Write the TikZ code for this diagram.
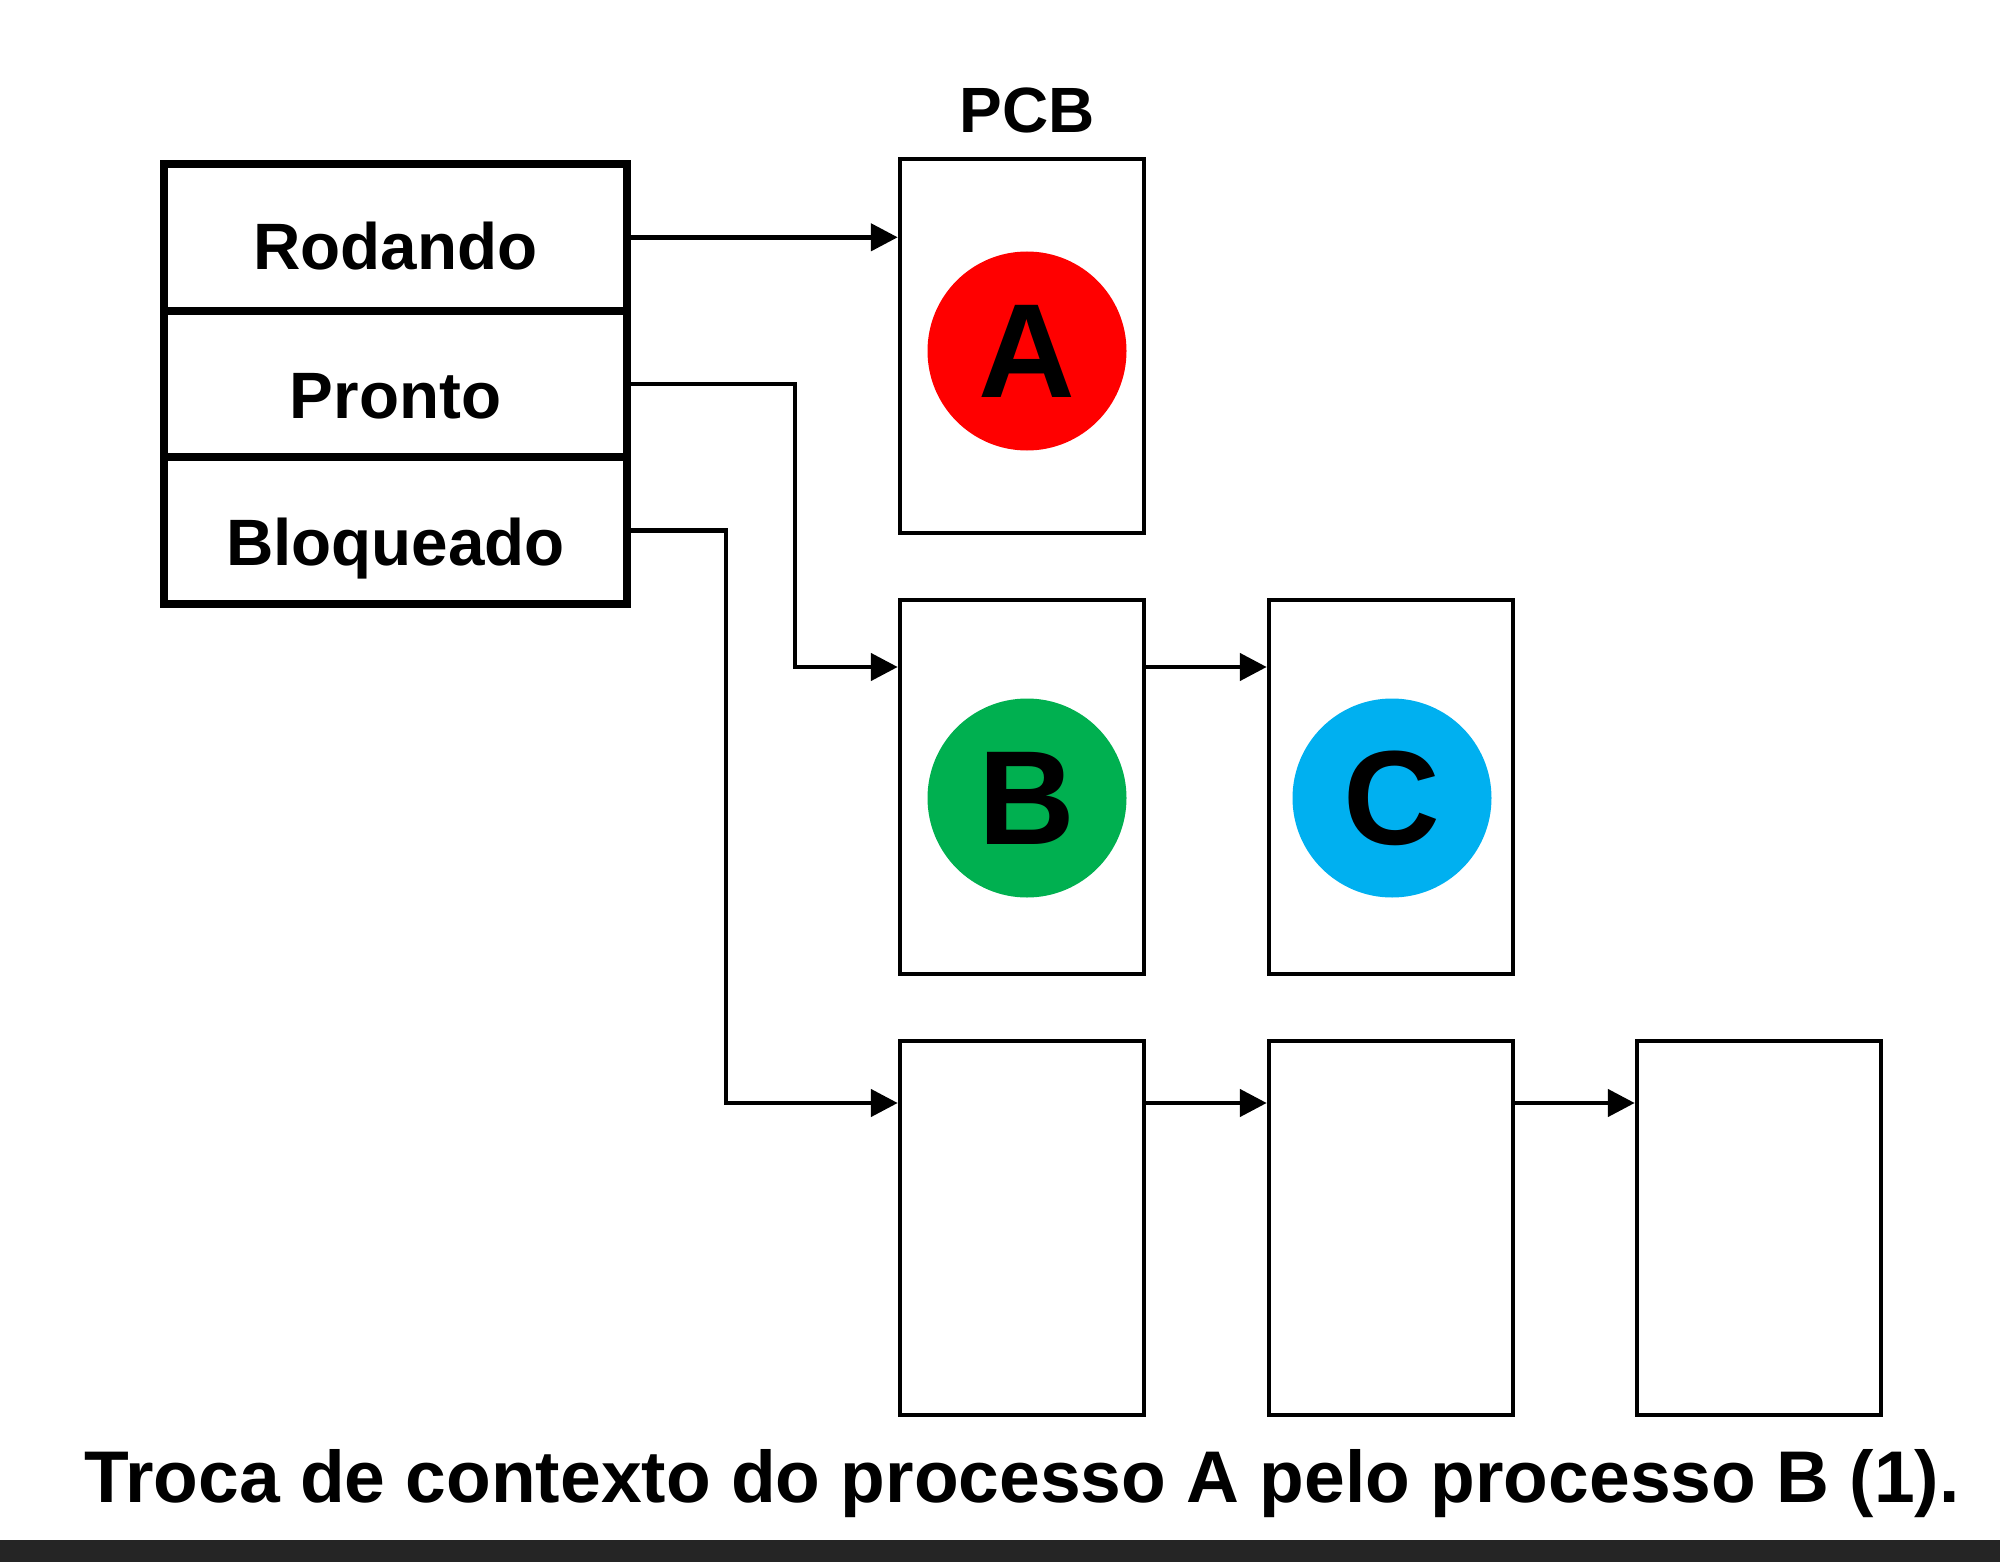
\documentclass[tikz,border=0pt]{standalone}
\usepackage{fontspec}
\setmainfont{Liberation Sans}
\usetikzlibrary{arrows.meta}
\definecolor{procred}{HTML}{FF0000}
\definecolor{procgreen}{HTML}{00B050}
\definecolor{procblue}{HTML}{00B0F0}
\definecolor{barcol}{HTML}{252525}
\begin{document}
\begin{tikzpicture}[x=1pt,y=-1pt,
  cell/.style={draw, line width=8pt, minimum width=463pt, minimum height=146.7pt, inner sep=0pt},
  celltxt/.style={anchor=base, font=\fontsize{65.6pt}{70pt}\selectfont\bfseries},
  pcbbox/.style={draw, line width=4.5pt, minimum width=244pt, minimum height=374pt, inner sep=0pt},
  proc/.style={circle, minimum size=199pt, inner sep=0pt, font=\fontsize{134pt}{140pt}\selectfont\bfseries},
  arr/.style={line width=4.8pt, -{Triangle[length=27pt,width=27pt]}},
  conn/.style={line width=4.8pt}]
\useasboundingbox (0,0) rectangle (2000,1562);
\fill[white] (0,0) rectangle (2000,1562);
\fill[barcol] (0,1540) rectangle (2000,1562);
% state table
\node[cell] (r) at (395.5,237.3) {};
\node[cell] (p) at (395.5,384) {};
\node[cell] (b) at (395.5,530.7) {};
\node[celltxt] (rt) at (395.5,270) {Rodando};
\node[celltxt] (pt) at (395.5,418) {Pronto};
\node[celltxt] (bt) at (395.5,565) {Bloqueado};
% PCB label
\node[anchor=base, font=\fontsize{64pt}{68pt}\selectfont\bfseries] (pcb) at (1027,133) {PCB};
% PCB boxes
\node[pcbbox] (pA) at (1022,346) {};
\node[pcbbox] (pB) at (1022,787) {};
\node[pcbbox] (pC) at (1391,787) {};
\node[pcbbox] (pD) at (1022,1228) {};
\node[pcbbox] (pE) at (1391,1228) {};
\node[pcbbox] (pF) at (1759,1228) {};
% processes
\node[proc, fill=procred] (A) at (1027,351) {A};
\node[proc, fill=procgreen] (B) at (1027,798) {B};
\node[proc, fill=procblue] (C) at (1392,798) {C};
% connectors
\coordinate (j1) at (795,667);
\coordinate (j2) at (726,1103);
\draw[arr] (r.east) -- (r.east -| pA.west);
\draw[arr] (p.east) -| (j1) -- (j1 -| pB.west);
\draw[arr] (b.east) -| (j2) -- (j2 -| pD.west);
\draw[arr] (j1 -| pB.east) -- (j1 -| pC.west);
\draw[arr] (j2 -| pD.east) -- (j2 -| pE.west);
\draw[arr] (j2 -| pE.east) -- (j2 -| pF.west);
% caption
\node[anchor=base, font=\fontsize{73.2pt}{77pt}\selectfont\bfseries] (cap) at (1022,1502) {Troca de contexto do processo A pelo processo B (1).};
\end{tikzpicture}
\end{document}
